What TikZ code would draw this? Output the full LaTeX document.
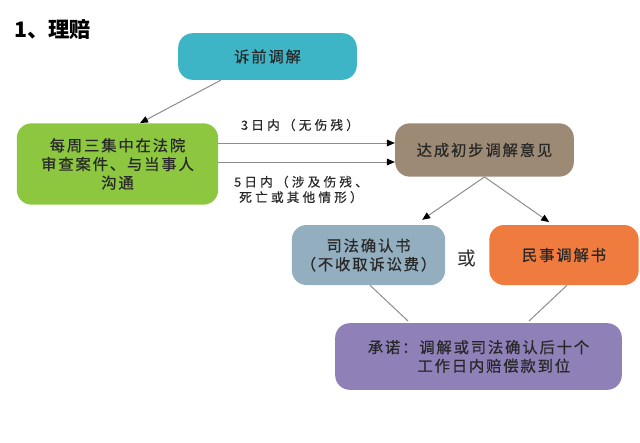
\documentclass[tikz,border=0pt]{standalone}
\usepackage{fontspec}
\setmainfont{Noto Sans CJK SC}
\newfontfamily\cjk[LetterSpace=12,FakeBold=0.6]{Noto Sans CJK SC}
\newfontfamily\cjklabel[LetterSpace=25,FakeBold=0.4]{Noto Sans CJK SC}
\usepackage{tikz}
\usetikzlibrary{calc}
\usetikzlibrary{arrows.meta}
\definecolor{tealbox}{RGB}{61,181,198}
\definecolor{greenbox}{RGB}{141,198,63}
\definecolor{brownbox}{RGB}{157,138,116}
\definecolor{greybox}{RGB}{147,174,191}
\definecolor{orangebox}{RGB}{239,123,62}
\definecolor{purplebox}{RGB}{143,128,184}
\definecolor{boxtext}{RGB}{40,40,40}
\definecolor{linkgrey}{RGB}{140,140,140}
\tikzset{
  stepbox/.style={rounded corners=11pt, inner sep=0pt, align=center, text=boxtext, font=\cjk\fontsize{11.5pt}{14pt}\selectfont},
  link/.style={draw=linkgrey, line width=0.75pt},
  arr/.style={link, -{Triangle[length=6pt,width=5pt,color=black]}},
  note/.style={inner sep=0pt, align=center, text=boxtext, font=\cjklabel\fontsize{9.5pt}{11.5pt}\selectfont}
}

\begin{document}
\begin{tikzpicture}[x=0.75pt,y=0.75pt,yscale=-1,xscale=1]
\useasboundingbox (0,0) rectangle (640,443);
% title
\node (title) [anchor=west, inner sep=0pt, font=\bfseries\fontsize{16pt}{18pt}\selectfont] at (14,30) {1、理赔};
% boxes
\node (pre) [stepbox, fill=tealbox, minimum width=134pt, minimum height=35pt] at (267.5,56.5) {诉前调解};
\node (court) [stepbox, fill=greenbox, minimum width=151pt, minimum height=61pt] at (117.5,164) {每周三集中在法院\\审查案件、与当事人\\沟通};
\node (agree) [stepbox, fill=brownbox, minimum width=134pt, minimum height=40pt] at (484.5,150) {达成初步调解意见};
\node (judicial) [stepbox, fill=greybox, minimum width=115pt, minimum height=45pt] at (368.5,255) {司法确认书\\（不收取诉讼费）};
\node (civil) [stepbox, fill=orangebox, minimum width=112pt, minimum height=45pt] at (564,255) {民事调解书};
\node (promise) [stepbox, fill=purplebox, minimum width=215pt, minimum height=50pt] at (478.5,356.5) {承诺：调解或司法确认后十个\\\hspace*{2em}工作日内赔偿款到位};
\node (or) [inner sep=0pt, text=boxtext, font=\fontsize{14pt}{16pt}\selectfont] at (467,258) {或};
% labels
\node (three) [note] at (300,125) {3日内（无伤残）};
\node (five) [note] at (301,189.5) {5日内（涉及伤残、\\死亡或其他情形）};
% connectors
\draw [arr] ($(pre.south)+(-46.5,0)$) -- ($(court.north)+(22.5,0)$);
\draw [arr] ($(court.east)+(0,-21)$) -- ($(agree.west)+(0,-7)$);
\draw [arr] ($(court.east)+(0,-2)$) -- ($(agree.west)+(0,12)$);
\draw [arr, shorten >=6.5pt] (agree.south) -- ($(judicial.north)+(46.5,0)$);
\draw [arr, shorten >=3.5pt] (agree.south) -- ($(civil.north)+(-11,0)$);
\draw [link, shorten >=2pt] ($(judicial.south)+(1.5,0)$) -- ($(promise.north)+(-68.5,0)$);
\draw [link, shorten >=2pt] ($(civil.south)+(3,0)$) -- ($(promise.north)+(48.5,0)$);
\end{tikzpicture}
\end{document}
